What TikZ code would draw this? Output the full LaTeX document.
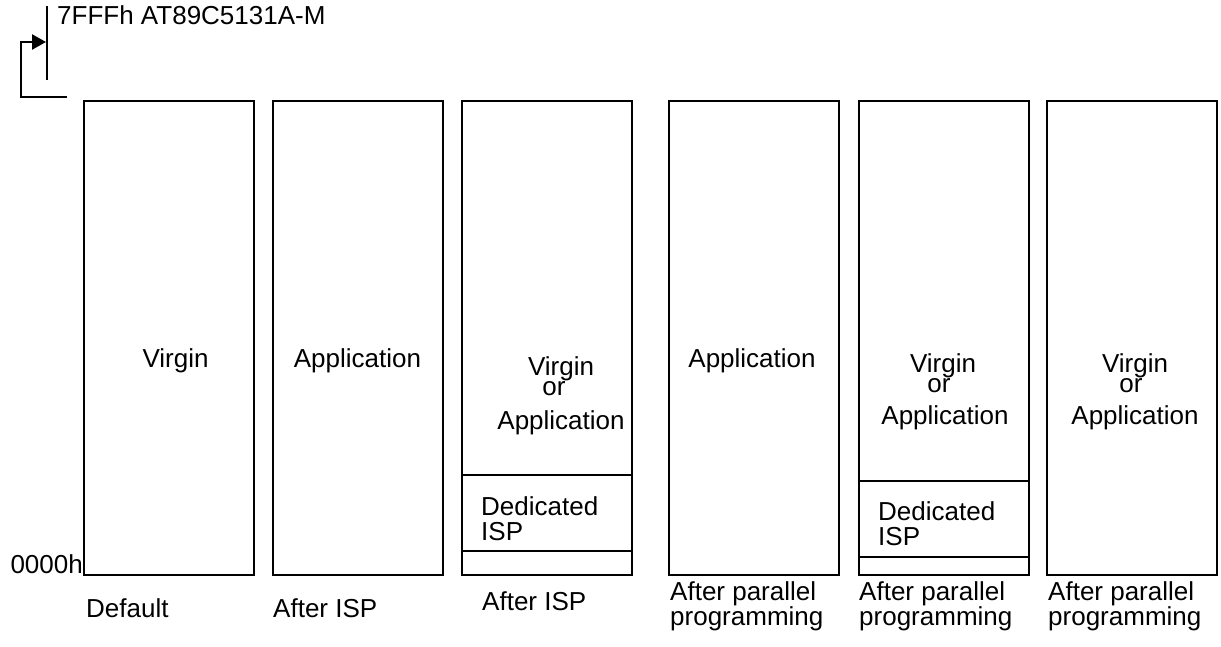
\documentclass[tikz,border=0pt]{standalone}
\usepackage{fontspec}
\setmainfont{Liberation Sans}
\usetikzlibrary{arrows.meta}
\begin{document}
\begin{tikzpicture}[x=1pt,y=-1pt,
  ln/.style={line width=2.5pt},
  membox/.style={draw,line width=2.5pt,minimum width=170pt,minimum height=474pt,inner sep=0pt},
  lbl/.style={font=\fontsize{26}{30}\selectfont,inner sep=0pt,anchor=base},
  lblw/.style={lbl,anchor=base west},
]
\useasboundingbox (0,0) rectangle (1221,646);
% boxes
\node[membox] (b1) at (169,338) {};
\node[membox] (b2) at (358,338) {};
\node[membox] (b3) at (547,338) {};
\node[membox] (b4) at (754,338) {};
\node[membox] (b5) at (944,338) {};
\node[membox] (b6) at (1132,338) {};
% dividers
\draw[ln] (b3.west |- 0,475) -- (b3.east |- 0,475);
\draw[ln] (b3.west |- 0,551) -- (b3.east |- 0,551);
\draw[ln] (b5.west |- 0,481) -- (b5.east |- 0,481);
\draw[ln] (b5.west |- 0,557) -- (b5.east |- 0,557);
% top marker
\coordinate (bartop) at (47,6);
\coordinate (barbot) at (47,80);
\coordinate (lstart) at (67,97);
\coordinate (lcorner) at (21,42);
\coordinate (tip) at (46,42);
\draw[ln] (bartop) -- (barbot);
\draw[ln,-{Triangle[length=14pt,width=15pt]}] (lstart) -| (lcorner) -- (tip);
\node[lblw] (title) at (57,24) {7FFFh AT89C5131A-M};
\node[lbl,anchor=base east] (zero) at (83,573) {0000h};
% box contents
\node[lbl] (v1) at (175.5,367) {Virgin};
\node[lbl] (a2) at (357.5,367) {Application};
\node[lbl] (v3) at (561,375) {Virgin};
\node[lbl] (o3) at (554,395) {or};
\node[lbl] (a3) at (561,429) {Application};
\node[lblw] (d3) at (481,515) {Dedicated};
\node[lblw] (i3) at (481,540) {ISP};
\node[lbl] (a4) at (752,367) {Application};
\node[lbl] (v5) at (943,372) {Virgin};
\node[lbl] (o5) at (939,392) {or};
\node[lbl] (a5) at (945,424) {Application};
\node[lblw] (d5) at (878,520) {Dedicated};
\node[lblw] (i5) at (878,545) {ISP};
\node[lbl] (v6) at (1135,372) {Virgin};
\node[lbl] (o6) at (1131,392) {or};
\node[lbl] (a6) at (1135,424) {Application};
% captions
\node[lblw] (c1) at (86,617) {Default};
\node[lblw] (c2) at (273,617) {After ISP};
\node[lblw] (c3) at (482,610) {After ISP};
\node[lblw] (c4a) at (670,600) {After parallel};
\node[lblw] (c4b) at (670,625) {programming};
\node[lblw] (c5a) at (859,600) {After parallel};
\node[lblw] (c5b) at (859,625) {programming};
\node[lblw] (c6a) at (1048,600) {After parallel};
\node[lblw] (c6b) at (1048,625) {programming};
\end{tikzpicture}
\end{document}
